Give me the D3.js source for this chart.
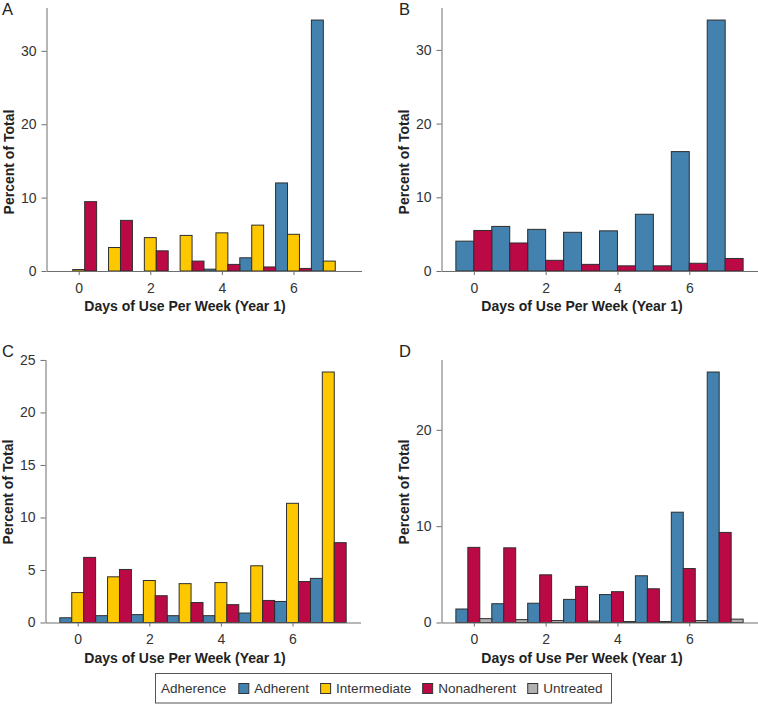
<!DOCTYPE html>
<html>
<head>
<meta charset="utf-8">
<script src="https://cdn.jsdelivr.net/npm/d3@7"></script>
<style>
  body { margin: 0; background: #fff; }
  svg { font-family: "Liberation Sans", Arial, Helvetica, sans-serif; }
  .axis path, .axis line { stroke: #6e6e6e; }
  .axis text { fill: #333; font-size: 14px; }
  .title { font-weight: bold; font-size: 14px; fill: #222; }
  .letter { font-size: 16.5px; fill: #222; }
</style>
</head>
<body>
<svg id="chart" width="758" height="704"></svg>
<script>
//days of use per week (x categories)
var days = [0, 1, 2, 3, 4, 5, 6, 7];
var xTicks = [0, 2, 4, 6];

//adherence groups and their colours
var groupNames = ["Adherent", "Intermediate", "Nonadherent", "Untreated"];
var groupColors = ["#4382ae", "#fec800", "#bb0946", "#b0b0b0"];

//panel A (percent of total)
var aAdherent     = [0, 0, 0, 0, 0.25, 1.8, 12.0, 34.2];
var aIntermediate = [0.2, 3.2, 4.55, 4.85, 5.2, 6.25, 5.0, 1.35];
var aNonadherent  = [9.45, 6.9, 2.75, 1.35, 0.9, 0.55, 0.35, 0];

//panel B
var bAdherent    = [4.05, 6.05, 5.65, 5.25, 5.45, 7.7, 16.2, 34.05];
var bNonadherent = [5.5, 3.8, 1.45, 0.9, 0.7, 0.7, 1.05, 1.7];

//panel C
var cAdherent     = [0.45, 0.65, 0.75, 0.65, 0.65, 0.9, 2.0, 4.2];
var cIntermediate = [2.85, 4.35, 4.0, 3.7, 3.8, 5.4, 11.35, 23.85];
var cNonadherent  = [6.2, 5.05, 2.55, 1.9, 1.7, 2.1, 3.9, 7.6];

//panel D
var dAdherent    = [1.4, 1.95, 2.0, 2.4, 2.9, 4.85, 11.45, 26.0];
var dNonadherent = [7.8, 7.75, 4.95, 3.75, 3.2, 3.5, 5.6, 9.35];
var dUntreated   = [0.4, 0.3, 0.2, 0.15, 0.1, 0.1, 0.2, 0.35];

//y tick values per panel
var aTicks = [0, 10, 20, 30];
var bTicks = [0, 10, 20, 30];
var cTicks = [0, 5, 10, 15, 20, 25];
var dTicks = [0, 10, 20];

var svg = d3.select("#chart");

//draws one dodged histogram panel
function drawPanel(p) {
  var x = d3.scaleLinear().domain([-0.9, 7.9]).range([p.left, p.left + p.width]);
  var maxVal = d3.max(p.series, function(s) { return d3.max(s.values); });
  var y = d3.scaleLinear().domain([0, maxVal * 1.05]).range([p.top + p.height, p.top]);

  var n = p.series.length;
  var bw = 1 / n;

  var bars = [];
  p.series.forEach(function(s, i) {
    s.values.forEach(function(v, j) {
      if (v > 0) bars.push({ x0: days[j] - 0.5 + i * bw, v: v, color: groupColors[s.group] });
    });
  });

  var g = svg.append("g");

  g.selectAll("rect.bar")
    .data(bars)
    .enter().append("rect")
    .attr("class", "bar")
    .attr("x", function(d) { return x(d.x0); })
    .attr("width", function(d) { return x(d.x0 + bw) - x(d.x0); })
    .attr("y", function(d) { return y(d.v); })
    .attr("height", function(d) { return y(0) - y(d.v); })
    .attr("fill", function(d) { return d.color; })
    .attr("stroke", "#2e2e2e")
    .attr("stroke-width", 1);

  //x axis
  g.append("g")
    .attr("class", "axis")
    .attr("transform", "translate(0," + (p.top + p.height) + ")")
    .call(d3.axisBottom(x).tickValues(xTicks).tickSize(4).tickSizeOuter(0).tickPadding(8))
    .call(function(a) { a.attr("font-family", null).attr("font-size", null); });

  //y axis
  g.append("g")
    .attr("class", "axis")
    .attr("transform", "translate(" + p.left + ",0)")
    .call(d3.axisLeft(y).tickValues(p.ticks).tickSize(5).tickSizeOuter(0).tickPadding(5))
    .call(function(a) { a.attr("font-family", null).attr("font-size", null); });

  //axis titles
  g.append("text")
    .attr("class", "title")
    .attr("text-anchor", "middle")
    .attr("x", p.xTitleX)
    .attr("y", p.top + p.height + 40)
    .text("Days of Use Per Week (Year 1)");

  g.append("text")
    .attr("class", "title")
    .attr("text-anchor", "middle")
    .attr("transform", "translate(" + (p.left - 33) + "," + p.yTitleY + ") rotate(-90)")
    .text("Percent of Total");

  //panel letter
  g.append("text")
    .attr("class", "letter")
    .attr("x", p.letterX)
    .attr("y", p.letterY)
    .text(p.letter);
}

drawPanel({
  letter: "A", letterX: 2, letterY: 15,
  left: 46.5, top: 7.5, width: 315, height: 263.5,
  xTitleX: 185, yTitleY: 162, ticks: aTicks,
  series: [
    { group: 0, values: aAdherent },
    { group: 1, values: aIntermediate },
    { group: 2, values: aNonadherent }
  ]
});

drawPanel({
  letter: "B", letterX: 399, letterY: 15,
  left: 441.5, top: 7.5, width: 316, height: 263.5,
  xTitleX: 582, yTitleY: 162, ticks: bTicks,
  series: [
    { group: 0, values: bAdherent },
    { group: 2, values: bNonadherent }
  ]
});

drawPanel({
  letter: "C", letterX: 2, letterY: 357,
  left: 45.5, top: 359.5, width: 315, height: 263,
  xTitleX: 185, yTitleY: 492, ticks: cTicks,
  series: [
    { group: 0, values: cAdherent },
    { group: 1, values: cIntermediate },
    { group: 2, values: cNonadherent }
  ]
});

drawPanel({
  letter: "D", letterX: 399, letterY: 357,
  left: 441.5, top: 359.5, width: 316, height: 263,
  xTitleX: 582, yTitleY: 492, ticks: dTicks,
  series: [
    { group: 0, values: dAdherent },
    { group: 2, values: dNonadherent },
    { group: 3, values: dUntreated }
  ]
});

//legend
var legend = svg.append("g").attr("class", "legend");
legend.append("rect")
  .attr("x", 155.5).attr("y", 673.5)
  .attr("width", 456).attr("height", 29.5)
  .attr("fill", "#fff").attr("stroke", "#555");

var lx = 161;
var head = legend.append("text")
  .attr("x", lx).attr("y", 693)
  .attr("font-size", 13.5).attr("fill", "#333")
  .text("Adherence");
lx += head.node().getComputedTextLength() + 12;

groupNames.forEach(function(name, i) {
  legend.append("rect")
    .attr("x", lx + 0.5).attr("y", 683.5)
    .attr("width", 10).attr("height", 10)
    .attr("fill", groupColors[i]).attr("stroke", "#333");
  var t = legend.append("text")
    .attr("x", lx + 16).attr("y", 693)
    .attr("font-size", 13.5).attr("fill", "#333")
    .text(name);
  lx += 16 + t.node().getComputedTextLength() + 11;
});
</script>
</body>
</html>
